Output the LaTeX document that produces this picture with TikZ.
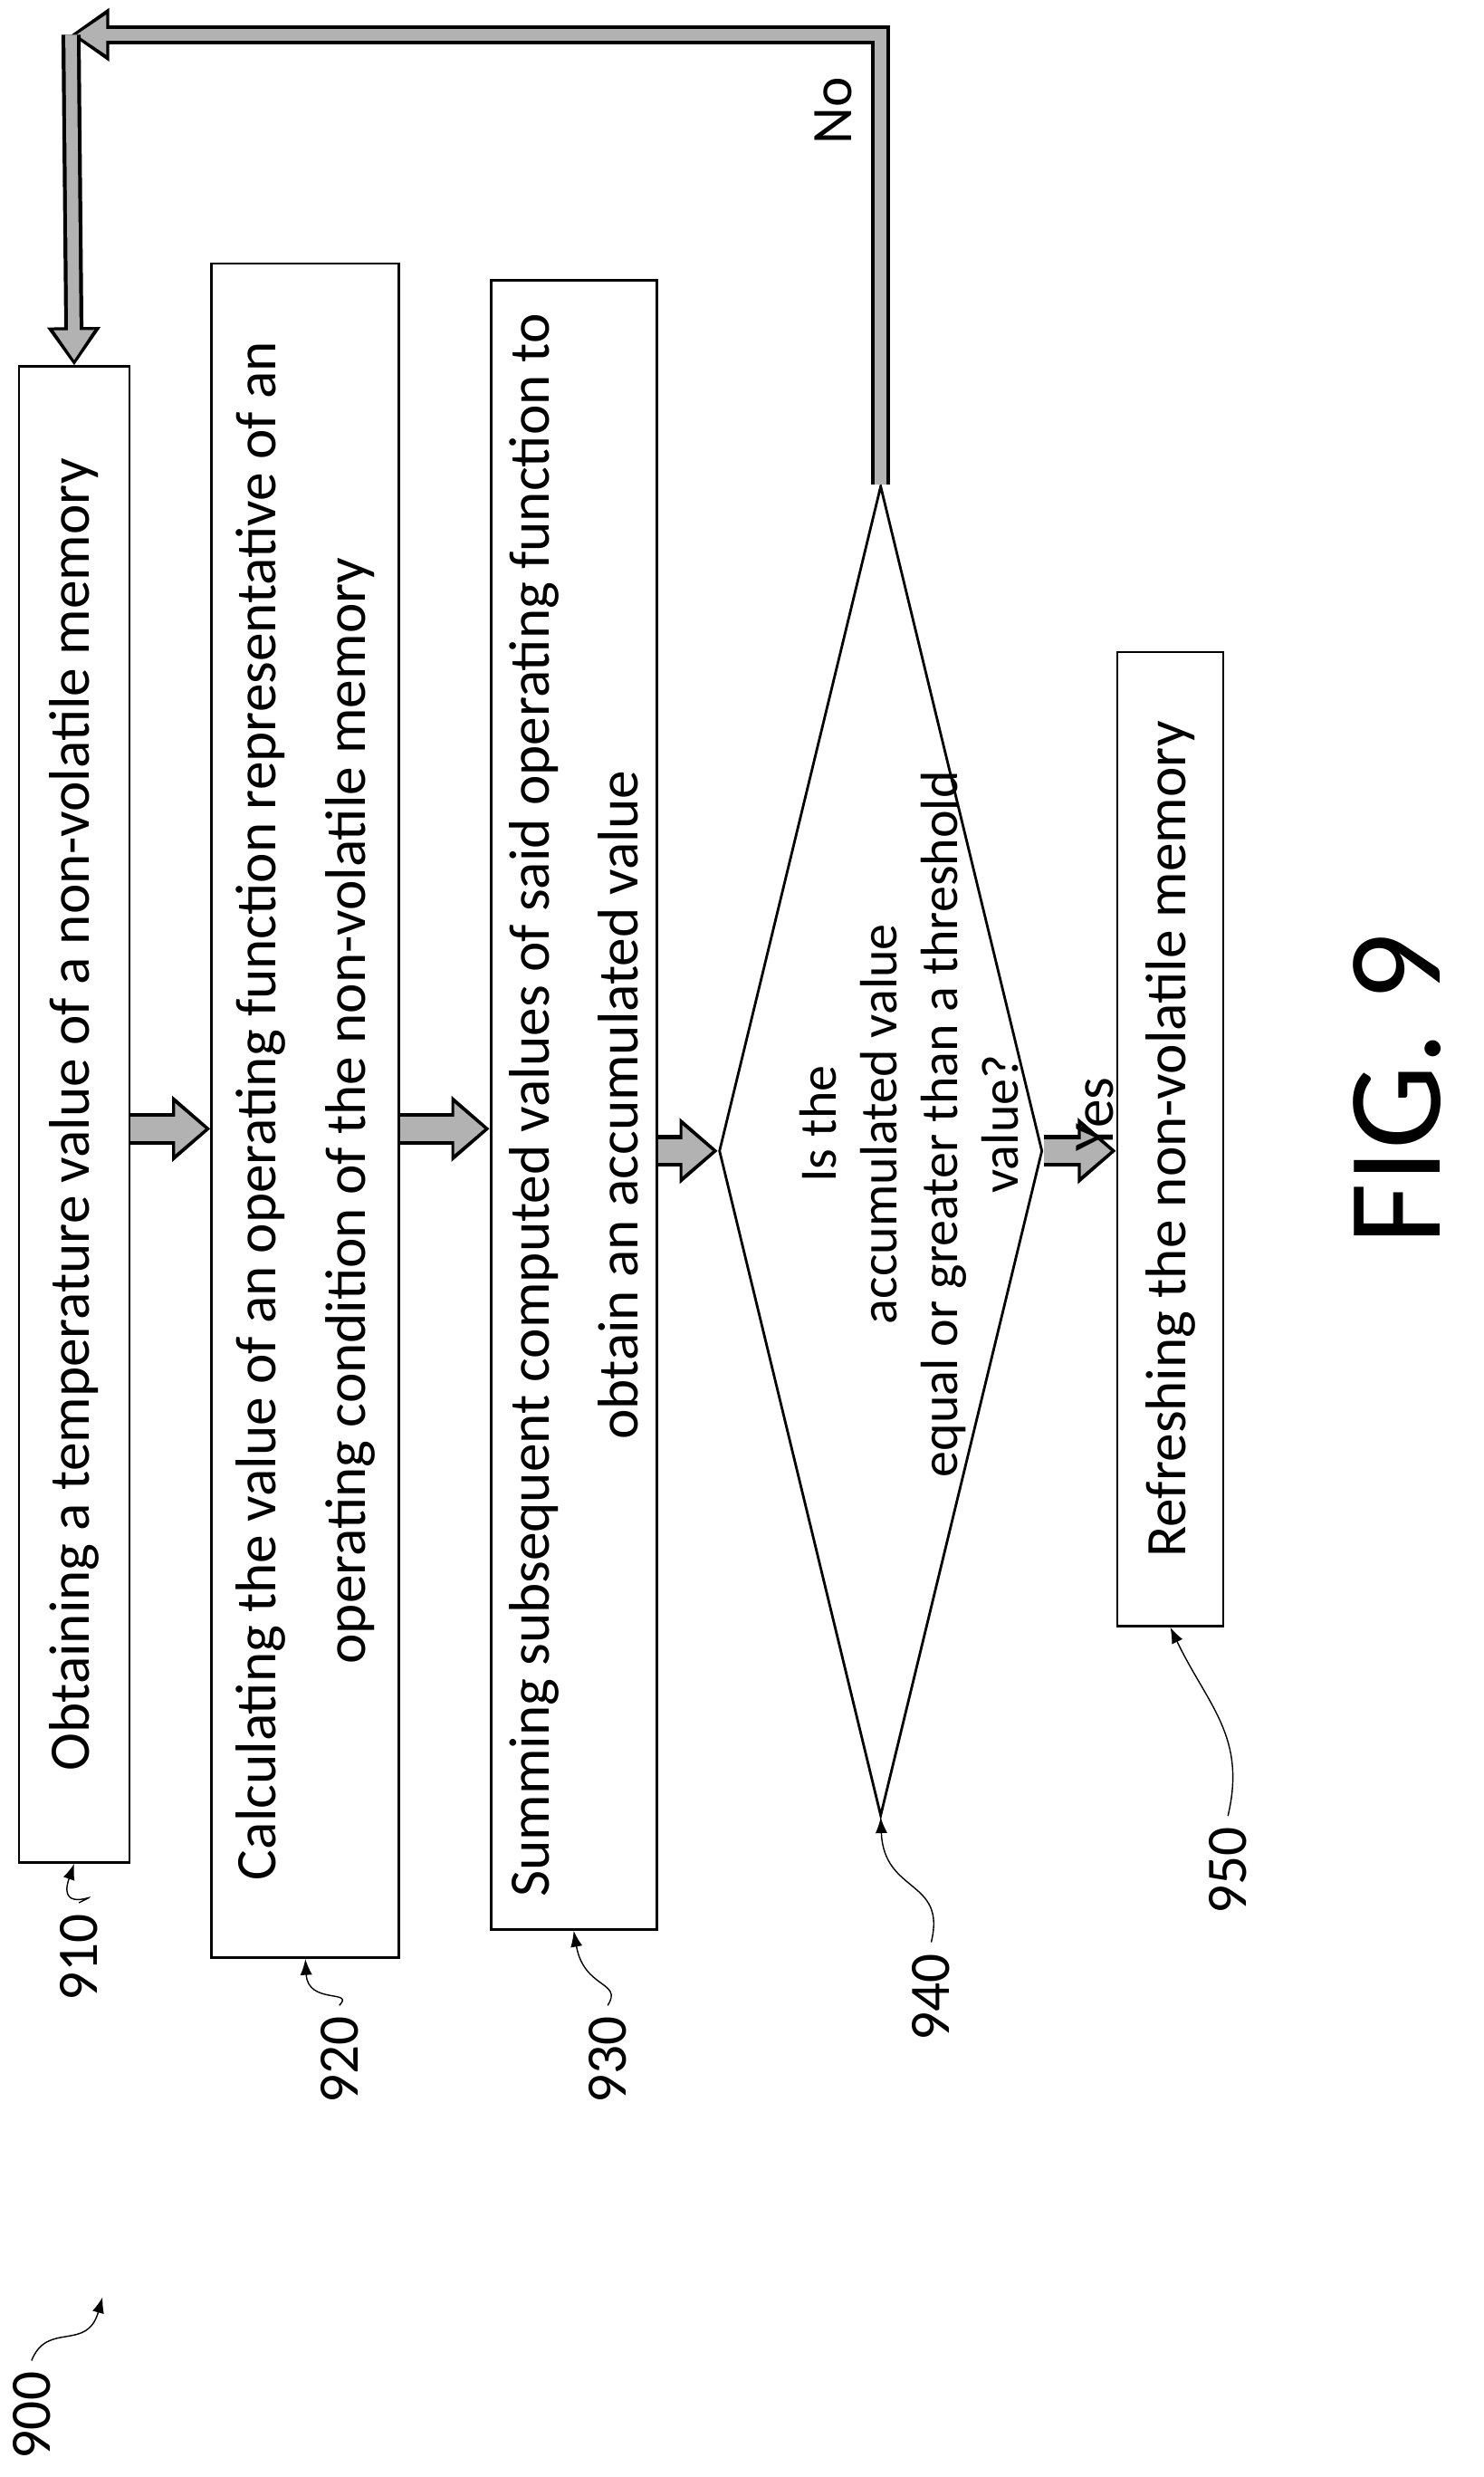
\documentclass[tikz,border=0pt]{standalone}
\usepackage{fontspec}
\setmainfont{Carlito}
\usetikzlibrary{shapes.geometric,arrows.meta,calc}
\begin{document}
\begin{tikzpicture}[x=0.01743cm,y=-0.01743cm,
box/.style={draw=black,thick,rotate=90,inner sep=0pt,font=\fontsize{18}{28}\selectfont,align=center},
fat/.style={line width=10pt,draw=black,-{Triangle[length=12pt,width=20pt]},
  postaction={draw=gray!60,line width=7.5pt,-{Triangle[length=9.5pt,width=15.5pt]},shorten >=1.6pt}},
loop/.style={line width=6pt,draw=black,line join=miter,-{Triangle[length=12pt,width=16pt]},
  postaction={draw=gray!60,line width=3.6pt,-{Triangle[length=9.5pt,width=12pt]},shorten >=1.6pt}},
num/.style={rotate=90,font=\fontsize{18}{22}\selectfont},
lead/.style={-{Latex[length=5pt]},thin}]
\useasboundingbox (0,0) rectangle (940,1569);

\node (b1) at (47,706) [box,minimum width=16.51cm,minimum height=1.22cm] {Obtaining a temperature value of a non-volatile memory};
\node (b2) at (193.5,703.5) [box,minimum width=18.70cm,minimum height=2.07cm] {Calculating the value of an operating function representative of an\\operating condition of the non-volatile memory};
\node (b3) at (363.5,700) [box,minimum width=18.20cm,minimum height=1.83cm] {Summing subsequent computed values of said operating function to\\obtain an accumulated value};
\node (d) at (558,729) [draw=black,thick,diamond,rotate=90,minimum width=14.68cm,minimum height=3.57cm,inner sep=0pt] {};
\node (q) at (576,712) [rotate=90,align=center,font=\fontsize{16.5}{19}\selectfont] {Is the\\accumulated value\\equal or greater than a threshold\\value?};
\node (b5) at (741.5,721.5) [box,minimum width=10.75cm,minimum height=1.17cm] {Refreshing the non-volatile memory};

\coordinate (r) at (0,715);
\coordinate (c1) at (558,22);
\coordinate (c2) at (45,22);

\draw [fat] (b1.south |- r) -- (b2.north |- r);
\draw [fat] (b2.south |- r) -- (b3.north |- r);
\draw [fat] (b3.south |- d.north) -- (d.north);
\draw [fat] (d.south) -- (b5.north |- d.south);
\node (yes) at (694,706) [num] {Yes};
\draw [loop] (d.east) -- (c1) -- (c2);
\draw [loop] (c2) -- (b1.east);
\node (no) at (528,70) [num] {No};

% reference numerals
\node (n900) at (20,1530) [num] {900};
\node (n910) at (50,1240) [num] {910};
\node (n920) at (215,1305) [num] {920};
\node (n930) at (385,1305) [num] {930};
\node (n940) at (590,1265) [num] {940};
\node (n950) at (778,1185) [num] {950};
\coordinate (t900) at (65,1455);

\draw [lead] (n900.east) .. controls (30,1470) and (55,1490) .. (t900);
\draw [lead] (n910.east) .. controls (70,1195) and (35,1215) .. (b1.west);
\draw [lead] (n920.east) .. controls (225,1260) and (195,1270) .. (b2.west);
\draw [lead] (n930.east) .. controls (395,1255) and (370,1260) .. (b3.west);
\draw [lead] (n940.east) .. controls (600,1190) and (560,1200) .. (d.west);
\draw [lead] (n950.east) .. controls (790,1100) and (765,1080) .. (b5.west);

\node (fig) at (885,690) [rotate=90,font=\fontsize{42}{46}\selectfont] {FIG. 9};
\end{tikzpicture}
\end{document}
